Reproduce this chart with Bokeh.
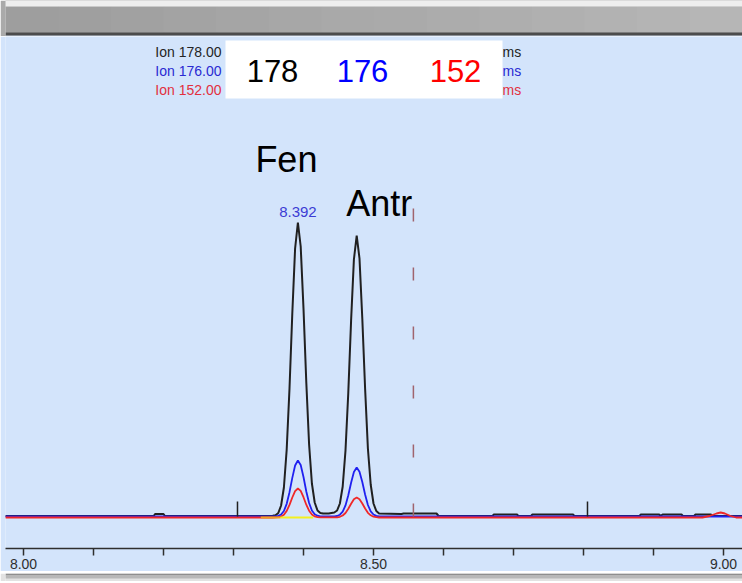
from bokeh.plotting import figure
from bokeh.models import Range1d, FixedTicker, CustomJSTickFormatter, ColumnDataSource
from bokeh.layouts import column
from bokeh.core.properties import value
from bokeh.embed import file_html
from bokeh.resources import INLINE

# ---------------- data ----------------
ion_labels = ["Ion 178.00", "Ion 176.00", "Ion 152.00"]
ion_short = ["178", "176", "152"]
ion_colors = ["#202020", "#2020f0", "#f02828"]
ion_text_colors = ["#242424", "#2a2ad2", "#e23040"]

# Ion 178 (black)
t178 = [7.974, 8.100, 8.186, 8.188, 8.200, 8.202, 8.330, 8.356,
        8.360, 8.364, 8.368, 8.372, 8.376, 8.380, 8.384, 8.388, 8.392, 8.396,
        8.400, 8.404, 8.408, 8.412, 8.416, 8.420,
        8.424, 8.428, 8.432, 8.436, 8.440,
        8.444, 8.448, 8.452, 8.456, 8.460, 8.464, 8.468, 8.472, 8.476, 8.480,
        8.484, 8.488, 8.492, 8.496, 8.500, 8.504, 8.508,
        8.540, 8.543, 8.590, 8.593, 8.670, 8.672, 8.705, 8.707, 8.725, 8.727, 8.785, 8.787,
        8.880, 8.882, 8.908, 8.910, 8.913, 8.940, 8.942, 8.958, 8.960, 8.982, 8.984, 9.028]
i178 = [0.5, 0.5, 0.5, 2.5, 2.5, 0.5, 0.5, 0.8,
        1.2, 3.5, 11, 29, 67, 128, 203, 268, 294, 270,
        208, 134, 72, 33, 14, 6,
        3.5, 3, 3, 3, 3.5,
        4, 6, 13, 30, 66, 124, 196, 257, 281, 258,
        198, 128, 68, 32, 13, 5.5, 3,
        2.5, 3, 3, 0.5, 0.5, 2, 2, 0.5, 0.5, 2, 2, 0.5,
        0.5, 2, 2, 0.5, 2, 2, 0.5, 0.5, 2, 2, 0.5, 0.5]

# Ion 176 (blue)
t176 = [7.974, 8.356, 8.360, 8.364, 8.368, 8.372, 8.376, 8.380, 8.384, 8.388,
        8.392, 8.396, 8.400, 8.404, 8.408, 8.412, 8.416, 8.420, 8.424,
        8.444, 8.448, 8.452, 8.456, 8.460, 8.464, 8.468, 8.472, 8.476, 8.480,
        8.484, 8.488, 8.492, 8.496, 8.500, 8.504, 8.508, 9.028]
i176 = [0, 0, 0.2, 0.6, 2, 5.5, 12.7, 24.3, 38.6, 51,
        56, 51.5, 39.5, 25, 13.5, 6, 2.2, 0.8, 0.2,
        0.2, 0.5, 1.8, 4.8, 11.1, 21.3, 33.8, 44.6, 49, 44.8,
        34.5, 22, 11.5, 5.2, 2, 0.6, 0.1, 0]

# Ion 152 (red)
t152 = [7.974, 8.356, 8.360, 8.364, 8.368, 8.372, 8.376, 8.380, 8.384, 8.388,
        8.392, 8.396, 8.400, 8.404, 8.408, 8.412, 8.416, 8.420, 8.424,
        8.444, 8.448, 8.452, 8.456, 8.460, 8.464, 8.468, 8.472, 8.476, 8.480,
        8.484, 8.488, 8.492, 8.496, 8.500, 8.504, 8.508,
        8.970, 8.980, 8.990, 8.996, 9.002, 9.010, 9.018, 9.028]
i152 = [-1, -1, -0.9, -0.7, 0, 1.8, 5.6, 11.6, 19, 25.4,
        28, 25.6, 19.3, 11.8, 5.8, 2, 0.1, -0.6, -0.9,
        -0.95, -0.8, -0.3, 1, 3.5, 7.7, 12.8, 17.2, 19, 17.3,
        13, 8, 3.7, 1.2, -0.2, -0.7, -1,
        -1, 0.5, 3, 4, 3, 0.5, -1, -1]

# integration baseline pieces under the first peak
base_start = [8.339, 8.367]
base_end = [8.367, 8.414]
base_level = [-1, -1]
base_colors = ["#f0a020", "#f4f020"]

peak_names = ["Fen", "Antr"]
peak_times = [8.392, 8.476]
peak_heights = [294, 281]

event_times = [8.3057, 8.8057]
event_height = 15
marker_time = 8.557
marker_height = 311

tick_values = [8.0, 8.1, 8.2, 8.3, 8.4, 8.5, 8.6, 8.7, 8.8, 8.9, 9.0]

# ---------------- layout helpers ----------------
BG = "#d3e4fb"
PX_PER_MIN = 700.0
X0 = 8.0 - 18.0 / PX_PER_MIN
X1 = X0 + 737.0 / PX_PER_MIN
Y0, Y1 = -32, 480


def px2x(px):
    return X0 + (px - 5) / PX_PER_MIN


def py2y(py):
    return 516 - py


FONT = value("Liberation Sans")

# ---------------- top bar ----------------
top = figure(width=742, height=36, x_range=Range1d(0, 742), y_range=Range1d(36, 0),
             toolbar_location=None, output_backend="svg", min_border=0,
             x_axis_location=None, y_axis_location=None, outline_line_color=None,
             background_fill_color="#aaaaaa", border_fill_color="#aaaaaa")
top.grid.visible = False
nseg = 14
for k in range(nseg):
    g = int(0x9e + (0xb6 - 0x9e) * k / (nseg - 1))
    top.quad(left=k * 742 / nseg, right=(k + 1) * 742 / nseg + 1, top=6, bottom=32,
             fill_color="#%02x%02x%02x" % (g, g, g), line_color=None)
top.quad(left=0, right=742, top=0, bottom=6, fill_color="#eeeeee", line_color=None)
top.quad(left=0, right=742, top=32, bottom=35, fill_color="#4c4c4c", line_color=None)
top.quad(left=0, right=742, top=35, bottom=36, fill_color="#9aa6b6", line_color=None)

# ---------------- main chromatogram ----------------
p = figure(frame_width=737, frame_height=512, x_range=Range1d(X0, X1), y_range=Range1d(Y0, Y1),
           y_axis_location=None, toolbar_location=None, output_backend="svg",
           min_border_left=5, min_border_right=0, min_border_top=0, min_border_bottom=0,
           background_fill_color=BG, border_fill_color=BG, outline_line_color=None)
p.xgrid.visible = False
p.ygrid.visible = False

ax = p.xaxis[0]
ax.ticker = FixedTicker(ticks=tick_values, minor_ticks=[])
ax.formatter = CustomJSTickFormatter(
    code="return (Math.abs(tick*2 - Math.round(tick*2)) < 1e-6) ? tick.toFixed(2) : '';")
ax.axis_line_color = "#2e2e2e"
ax.axis_line_width = 1.5
ax.major_tick_line_color = "#2e2e2e"
ax.major_tick_line_width = 1.5
ax.major_tick_out = 7
ax.major_tick_in = 0
ax.minor_tick_line_color = None
ax.major_label_standoff = 3
ax.major_label_text_font = "Liberation Sans"
ax.major_label_text_font_size = "14px"
ax.major_label_text_color = "#2e2e2e"

# traces
p.line(t178, i178, line_color=ion_colors[0], line_width=2.0)
p.line(t176, i176, line_color=ion_colors[1], line_width=1.8)
p.line(t152, i152, line_color=ion_colors[2], line_width=1.8)
p.segment(x0=base_start, y0=base_level, x1=base_end, y1=base_level,
          line_color=base_colors, line_width=1.8)

# events and marker
p.segment(x0=event_times, y0=[0] * len(event_times), x1=event_times,
          y1=[event_height] * len(event_times), line_color="#202020", line_width=1.5)
p.segment(x0=[marker_time], y0=[0], x1=[marker_time], y1=[marker_height],
          line_color="#a0646e", line_width=1.5, line_dash="13 46")

# peak names and retention time
pk = ColumnDataSource(dict(x=peak_times, y=peak_heights, name=peak_names,
                           xo=[-11.5, 22.5], yo=[-63.5, -32.5]))
p.text(x="x", y="y", text="name", x_offset="xo", y_offset="yo", source=pk,
       text_font=FONT, text_font_size="36px", text_color="#000000",
       text_align="center", text_baseline="middle")
p.text(x=[peak_times[0]], y=[peak_heights[0]], text=["%.3f" % peak_times[0]],
       y_offset=-10.5, text_font=FONT, text_font_size="15px", text_color="#3c3cd4",
       text_align="center", text_baseline="middle")

# header: ion list, white box with big ion numbers
row_py = [51, 70, 89]
p.text(x=[px2x(221)] * 3, y=[py2y(v) for v in row_py], text=ion_labels,
       text_color=ion_text_colors, text_font=FONT, text_font_size="14px",
       text_align="right", text_baseline="middle")
p.text(x=[px2x(502)] * 3, y=[py2y(v) for v in row_py], text=["ms"] * 3,
       text_color=ion_text_colors, text_font=FONT, text_font_size="14px",
       text_align="left", text_baseline="middle")
p.quad(left=[px2x(225)], right=[px2x(502)], top=[py2y(40)], bottom=[py2y(98)],
       fill_color="#ffffff", line_color=None)
p.text(x=[px2x(272), px2x(362), px2x(455)], y=[py2y(70.5)] * 3, text=ion_short,
       text_color=["#000000", "#0000ff", "#ff0000"], text_font=FONT,
       text_font_size="31px", text_align="center", text_baseline="middle")

# ---------------- bottom bar ----------------
bot = figure(width=742, height=10, x_range=Range1d(0, 742), y_range=Range1d(10, 0),
             toolbar_location=None, output_backend="svg", min_border=0,
             x_axis_location=None, y_axis_location=None, outline_line_color=None,
             background_fill_color="#e2e2e2", border_fill_color="#e2e2e2")
bot.grid.visible = False
bot.quad(left=0, right=742, top=0, bottom=2, fill_color="#8e8e8e", line_color=None)
bot.quad(left=0, right=742, top=2, bottom=5, fill_color="#b8b8b8", line_color=None)

layout = column(top, p, bot, spacing=0)
open("out.html", "w").write(file_html(layout, INLINE, title="Chromatogram"))
